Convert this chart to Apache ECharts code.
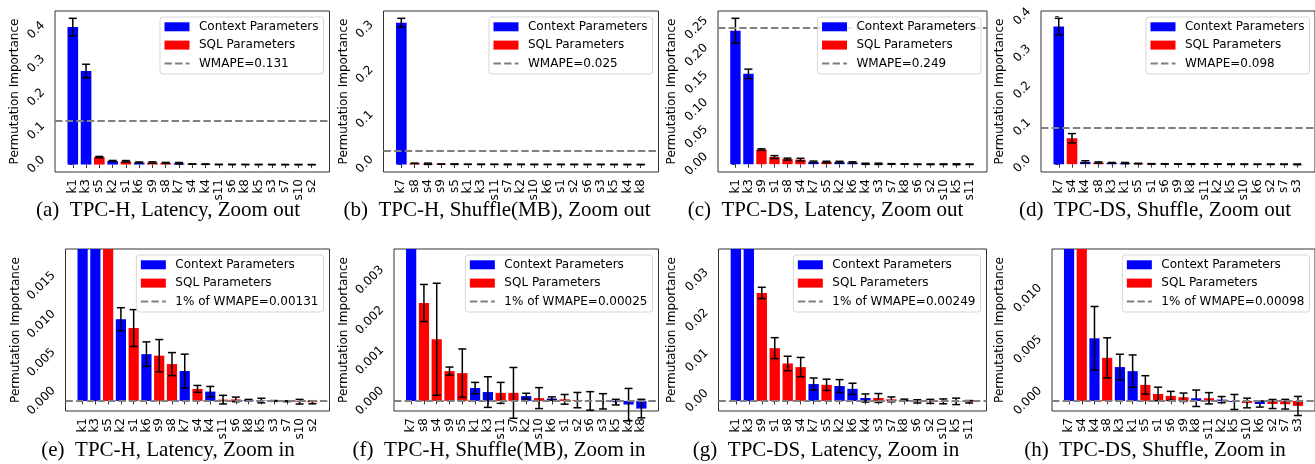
<!DOCTYPE html>
<html><head><meta charset="utf-8">
<script src="https://cdn.jsdelivr.net/npm/echarts@6/dist/echarts.min.js"></script>
<style>html,body{margin:0;padding:0;background:#fff}#c{width:1315px;height:464px}</style>
</head><body><div id="c"></div>
<script>
// ---------------- data ----------------
// TPC-H, Latency (panels a, e)
const catsHLat = ['k1','k3','s5','k2','s1','k6','s9','s8','k7','s4','k4','s11','s6','k8','k5','s3','s7','s10','s2'];
const valsHLat = [0.410,0.279,0.0222,0.01065,0.0095,0.0061,0.0059,0.0048,0.0039,0.00157,0.00122,0.00017,0.0002,0.0001,0.00005,0.0,-0.00004,-0.0001,-0.00017];
const errsHLat = [0.026,0.020,0.002,0.0015,0.0024,0.0016,0.0021,0.0015,0.0022,0.00045,0.00067,0.00056,0.0003,0.0001,0.0003,0.00005,0.00005,0.0003,0.0002];
// TPC-H, Shuffle(MB) (panels b, f)
const catsHShu = ['k7','s8','s4','s9','s5','k1','k3','s11','s7','k2','s10','k6','s1','s2','s6','s3','k5','k4','k8'];
const valsHShu = [0.315,0.00243,0.00153,0.00074,0.00069,0.00032,0.00022,0.0002,0.0002,0.00012,0.00007,0.00006,0.00004,0.00002,0.0,-0.00001,-0.00003,-0.00009,-0.00019];
const errsHShu = [0.010,0.00046,0.00139,0.0001,0.0006,0.00014,0.00038,0.00026,0.00063,0.00007,0.00026,0.00004,0.00012,0.00019,0.00023,0.00019,0.00007,0.0004,0.00023];
// TPC-DS, Latency (panels c, g)
const catsDSLat = ['k1','k3','s9','s1','s8','s4','k7','s5','k2','k6','k4','s3','s7','k8','s6','s2','s10','k5','s11'];
const valsDSLat = [0.245,0.166,0.0268,0.0131,0.0093,0.0084,0.0042,0.0040,0.0037,0.0030,0.00074,0.00074,0.0004,0.00025,-0.0001,-0.0001,-0.0001,-0.0001,-0.0002];
const errsDSLat = [0.023,0.0086,0.0014,0.0026,0.0018,0.0024,0.0015,0.0014,0.0016,0.0014,0.001,0.0011,0.0006,0.0002,0.0004,0.0005,0.0006,0.0008,0.0003];
// TPC-DS, Shuffle (panels d, h)
const catsDSShu = ['k7','s4','k4','s8','k3','k1','s5','s1','s6','s9','k8','s11','k2','k5','s10','k6','s2','s7','s3'];
const valsDSShu = [0.373,0.0703,0.0061,0.0042,0.0033,0.0029,0.00156,0.00068,0.00049,0.00036,0.00026,0.00026,0.00013,-0.0001,-0.0002,-0.0003,-0.0003,-0.00032,-0.00049];
const errsDSShu = [0.0225,0.0126,0.0031,0.00195,0.00125,0.00158,0.0009,0.00066,0.00044,0.00041,0.0008,0.00055,0.0003,0.00073,0.00047,0.0003,0.00044,0.00047,0.00093];

// WMAPE reference lines
const wmapeOut = [0.131, 0.025, 0.249, 0.098];
const wmapeOutLabels = ['WMAPE=0.131','WMAPE=0.025','WMAPE=0.249','WMAPE=0.098'];
const wmapeIn = [0.00131, 0.00025, 0.00249, 0.00098];
const wmapeInLabels = ['1% of WMAPE=0.00131','1% of WMAPE=0.00025','1% of WMAPE=0.00249','1% of WMAPE=0.00098'];
// zoom-in y ranges
const zoomInMin = [-0.00131, -0.00025, -0.00249, -0.00098];
const zoomInMax = [0.0198, 0.00377, 0.0377, 0.0148];

// y tick labels
const yTicksA = ['0.0','0.1','0.2','0.3','0.4'];
const yTicksB = ['0.0','0.1','0.2','0.3'];
const yTicksC = ['0.00','0.05','0.10','0.15','0.20','0.25'];
const yTicksD = ['0.0','0.1','0.2','0.3','0.4'];
const yTicksE = ['0.000','0.005','0.010','0.015'];
const yTicksF = ['0.000','0.001','0.002','0.003'];
const yTicksG = ['0.00','0.01','0.02','0.03'];
const yTicksH = ['0.000','0.005','0.010'];

const legendContext = 'Context Parameters';
const legendSQL = 'SQL Parameters';
const yName = 'Permutation Importance';
const captions = [
  '(a)  TPC-H, Latency, Zoom out','(b)  TPC-H, Shuffle(MB), Zoom out',
  '(c)  TPC-DS, Latency, Zoom out','(d)  TPC-DS, Shuffle, Zoom out',
  '(e)  TPC-H, Latency, Zoom in','(f)  TPC-H, Shuffle(MB), Zoom in',
  '(g)  TPC-DS, Latency, Zoom in','(h)  TPC-DS, Shuffle, Zoom in'
];

// ---------------- layout ----------------
const BLUE = '#0000ff', RED = '#ff0000', GRAY = '#808080';
const FONT = '"DejaVu Sans"';
const SERIF = '"Liberation Serif", "DejaVu Serif", serif';
const sets = [
  [catsHLat, valsHLat, errsHLat],
  [catsHShu, valsHShu, errsHShu],
  [catsDSLat, valsDSLat, errsDSLat],
  [catsDSShu, valsDSShu, errsDSShu]
];
const grids = [
  {left:55, top:11, width:274.5, height:161},
  {left:383.5, top:11, width:275, height:161},
  {left:718, top:11, width:269, height:161},
  {left:1041, top:11, width:274.5, height:161},
  {left:65.5, top:249, width:264, height:162},
  {left:394, top:249, width:264.5, height:162},
  {left:718.5, top:249, width:268, height:162},
  {left:1052, top:249, width:263.5, height:162}
];
const nameDist = [41.5, 41, 47, 42, 51, 51.3, 47.8, 52.7];
const capPos = [[168,210],[497,210],[825.5,210],[1155,210],[168,450],[499,450],[826,450],[1155,450]];
const yTickSets = [yTicksA,yTicksB,yTicksC,yTicksD,yTicksE,yTicksF,yTicksG,yTicksH];

const cv = document.createElement('canvas').getContext('2d');
cv.font = '12px ' + FONT;
const tw = s => cv.measureText(s).width;

const option = {animation:false, backgroundColor:'#fff', grid:[], xAxis:[], yAxis:[], series:[], graphic:[]};

for (let p = 0; p < 8; p++) {
  const d = p % 4, zoomIn = p >= 4;
  const [cats, vals, errs] = sets[d];
  const n = cats.length;
  const g = grids[p];
  const thr = zoomIn ? wmapeIn[d] : wmapeOut[d];
  const thrLabel = zoomIn ? wmapeInLabels[d] : wmapeOutLabels[d];
  let yMin, yMax;
  if (zoomIn) { yMin = zoomInMin[d]; yMax = zoomInMax[d]; }
  else {
    let lo = 0, hi = 0;
    vals.forEach((v,j) => { lo = Math.min(lo, v - errs[j]); hi = Math.max(hi, v + errs[j]); });
    const pad = 0.05 * (hi - lo);
    yMin = lo - pad; yMax = hi + pad;
  }
  const span = (n - 1 + 0.8);
  const xMin = -0.4 - 0.05 * span, xMax = n - 1 + 0.4 + 0.05 * span;
  const bw = 0.8 * g.width / (xMax - xMin);
  const idx = cats.map((c,j) => j);
  const tickVals = yTickSets[p].map(Number);

  option.grid.push({left:g.left, top:g.top, width:g.width, height:g.height, show:true,
    borderColor:'#000', borderWidth:0.8, backgroundColor:'transparent', containLabel:false});
  option.xAxis.push({type:'value', gridIndex:p, min:xMin, max:xMax,
    axisLine:{show:false}, splitLine:{show:false},
    axisTick:{show:true, customValues:idx, length:3.5, lineStyle:{color:'#000', width:0.8}},
    axisLabel:{customValues:idx, formatter:v => cats[Math.round(v)], rotate:90, margin:7,
      fontSize:12, fontFamily:FONT, color:'#000'}});
  option.yAxis.push({type:'value', gridIndex:p, min:yMin, max:yMax,
    name:yName, nameLocation:'middle', nameGap:nameDist[p] - 7,
    nameTextStyle:{fontSize:12, fontFamily:FONT, color:'#000'},
    axisLine:{show:false}, splitLine:{show:false},
    axisTick:{show:true, customValues:tickVals, length:3.5, lineStyle:{color:'#000', width:0.8}},
    axisLabel:{show:false}});

  option.series.push({type:'bar', xAxisIndex:p, yAxisIndex:p, barWidth:bw, z:2,
    data: cats.map((c,j) => ({value:[j, vals[j]], itemStyle:{color: c[0] === 'k' ? BLUE : RED}})),
    markLine:{silent:true, symbol:'none', animation:false, label:{show:false},
      lineStyle:{color:GRAY, width:2, type:[7.4,3.2], opacity:1},
      emphasis:{disabled:true}, data:[{yAxis:thr}]}});
  const ymaxLocal = yMax;
  option.series.push({type:'custom', xAxisIndex:p, yAxisIndex:p, clip:false, z:3, silent:true,
    data: cats.map((c,j) => [j, vals[j], errs[j]]),
    renderItem: (params, api) => {
      const x = api.value(0), v = api.value(1), e = api.value(2);
      const hi = v + e, lo = v - e;
      if (lo >= ymaxLocal) return null;
      const top = api.coord([x, Math.min(hi, ymaxLocal)]);
      const bot = api.coord([x, lo]);
      const st = {stroke:'#000', lineWidth:1.5};
      const ch = [
        {type:'line', shape:{x1:top[0], y1:top[1], x2:bot[0], y2:bot[1]}, style:st},
        {type:'line', shape:{x1:bot[0]-4, y1:bot[1], x2:bot[0]+4, y2:bot[1]}, style:st}
      ];
      if (hi <= ymaxLocal) ch.push({type:'line', shape:{x1:top[0]-4, y1:top[1], x2:top[0]+4, y2:top[1]}, style:st});
      return {type:'group', children:ch};
    }});

  // legend
  const textW = Math.max(tw(legendContext), tw(legendSQL), tw(thrLabel));
  const boxW = 39 + textW + 5, boxH = 57;
  const bx = g.left + g.width - 6 - boxW, by = g.top + 6;
  const rows = [by + 9.8, by + 28.1, by + 46.4];
  const Z = 100;
  option.graphic.push({type:'group', z:Z, children:[
    {type:'rect', z:Z, shape:{x:bx, y:by, width:boxW, height:boxH, r:3},
      style:{fill:'rgba(255,255,255,0.8)', stroke:'rgba(204,204,204,0.8)', lineWidth:1}},
    {type:'rect', z:Z+1, shape:{x:bx+4.5, y:rows[0]-4.5, width:25, height:9}, style:{fill:BLUE}},
    {type:'rect', z:Z+1, shape:{x:bx+4.5, y:rows[1]-4.5, width:25, height:9}, style:{fill:RED}},
    {type:'line', z:Z+1, shape:{x1:bx+4.5, y1:rows[2], x2:bx+29.5, y2:rows[2]},
      style:{stroke:GRAY, lineWidth:2, lineDash:[7.4,3.2]}},
    {type:'text', z:Z+1, x:bx+39, y:rows[0], style:{text:legendContext, font:'12px '+FONT, fill:'#000', verticalAlign:'middle'}},
    {type:'text', z:Z+1, x:bx+39, y:rows[1], style:{text:legendSQL, font:'12px '+FONT, fill:'#000', verticalAlign:'middle'}},
    {type:'text', z:Z+1, x:bx+39, y:rows[2], style:{text:thrLabel, font:'12px '+FONT, fill:'#000', verticalAlign:'middle'}}
  ]});
  option.graphic.push({type:'text', z:Z, x:capPos[p][0], y:capPos[p][1],
    style:{text:captions[p], font:'21px ' + SERIF, fill:'#000', align:'center', verticalAlign:'middle'}});
}

const chart = echarts.init(document.getElementById('c'), null, {renderer:'canvas'});
chart.setOption(option);

// rotated (45°) y tick labels, positioned through each y axis's scale
const tickTexts = [];
for (let p = 0; p < 8; p++) {
  const g = grids[p];
  yTickSets[p].forEach(lab => {
    const L = tw(lab);
    const y = chart.convertToPixel({yAxisIndex: p}, Number(lab));
    tickTexts.push({type:'text', z:50, x: g.left - 7 - 0.354 * (L + 14), y: y,
      rotation: Math.PI / 4,
      style:{text:lab, font:'12px ' + FONT, fill:'#000', align:'center', verticalAlign:'middle'}});
  });
}
chart.setOption({graphic: option.graphic.concat(tickTexts)});
</script>
</body></html>
